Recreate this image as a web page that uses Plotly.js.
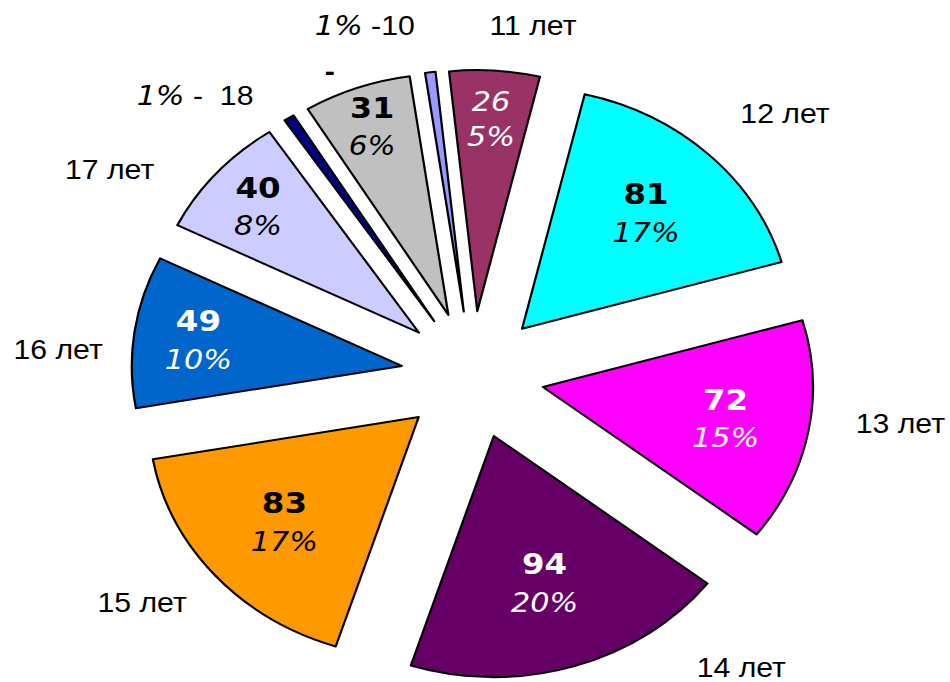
<!DOCTYPE html>
<html>
<head>
<meta charset="utf-8">
<script src="https://cdn.plot.ly/plotly-3.0.1.min.js"></script>
<style>
  html, body { margin: 0; padding: 0; background: #fff; overflow: hidden; }
  /* the reference picture is stretched sideways, so the circle is drawn narrower and widened */
  #chart { width: 848px; height: 682px; transform: scaleX(1.12); transform-origin: 0 0; }
</style>
</head>
<body>
<div id="chart"></div>
<script>
// data, clockwise from the top
const categories = ['11 лет', '12 лет', '13 лет', '14 лет', '15 лет', '16 лет', '17 лет', '18', '-', '10'];
const counts = [26, 81, 72, 94, 83, 49, 40, 3, 31, 3];
const outsideLabels = ['11 лет', '12 лет', '13 лет', '14 лет', '15 лет', '16 лет', '17 лет',
  '<i>1%</i> -  18', '<b>-</b>', '<i>1%</i> -10'];

const sliceColors = ['#993366', '#00FFFF', '#FF00FF', '#660066', '#FF9900',
  '#0066CC', '#CCCCFF', '#000080', '#C0C0C0', '#9999FF'];
const textColors = ['#fff', '#000', '#fff', '#fff', '#000', '#fff', '#000', '#000', '#000', '#000'];

// where the outside labels sit in the reference (image pixels, centre of text)
const labelPos = [[533, 26], [785, 114], [901, 424], [742, 668], [142, 603],
  [58, 350], [110, 170], [195, 95], [330, 72], [365, 25]];

const STRETCH = 1.12;
const M = { l: 117, r: 121, t: 70, b: 2 };
const PLOT = 610;
const ROTATION = -6;
const PULL = 0.265;

const total = counts.reduce((a, b) => a + b, 0);

// the narrow first slice would get its text shrunk by plotly, so it is written as an annotation
const templates = counts.map((v, i) => {
  if (v < 5 || i === 0) return '';
  return '<b>%{value}</b><br><span style="font-size:27px"><i>%{percent:.0%}</i></span>';
});

const annotations = outsideLabels.map((t, i) => {
  const [px, py] = labelPos[i];
  const isPct = t.indexOf('<i>') === 0;
  return {
    xref: 'paper', yref: 'paper',
    x: (px / STRETCH - M.l) / PLOT,
    y: 1 - (py - M.t) / PLOT,
    xanchor: 'center', yanchor: 'middle',
    text: isPct ? t.replace('<i>', '<i style="font-family:DejaVu Sans">') : t,
    showarrow: false,
    font: { family: 'Liberation Sans, Arial, sans-serif', size: 27, color: '#000' }
  };
});

// text inside slice 0, placed along its middle angle
{
  const mid = (ROTATION + 360 * (counts[0] / 2) / total) * Math.PI / 180;
  const R = 0.5 / (1 + PULL);           // pie radius in paper units
  const dist = (PULL + 0.8) * R;
  annotations.push({
    xref: 'paper', yref: 'paper',
    x: 0.5 + dist * Math.sin(mid),
    y: 0.5 + dist * Math.cos(mid),
    xanchor: 'center', yanchor: 'middle',
    text: '<i>' + counts[0] + '</i><br><i>' + Math.round(100 * counts[0] / total) + '%</i>',
    showarrow: false,
    font: { family: 'DejaVu Sans, Verdana, sans-serif', size: 27, color: textColors[0] }
  });
}

Plotly.newPlot('chart', [{
  type: 'pie',
  labels: categories,
  values: counts,
  sort: false,
  direction: 'clockwise',
  rotation: ROTATION,
  pull: PULL,
  marker: { colors: sliceColors, line: { color: '#000', width: 2 } },
  texttemplate: templates,
  textposition: 'inside',
  insidetextorientation: 'horizontal',
  insidetextfont: { family: 'DejaVu Sans, Verdana, sans-serif', size: 29, color: textColors },
  hoverinfo: 'label+value+percent',
  showlegend: false
}], {
  width: 848,
  height: 682,
  margin: M,
  paper_bgcolor: '#fff',
  plot_bgcolor: '#fff',
  showlegend: false,
  annotations: annotations
}, { displayModeBar: false, staticPlot: true });
</script>
</body>
</html>
